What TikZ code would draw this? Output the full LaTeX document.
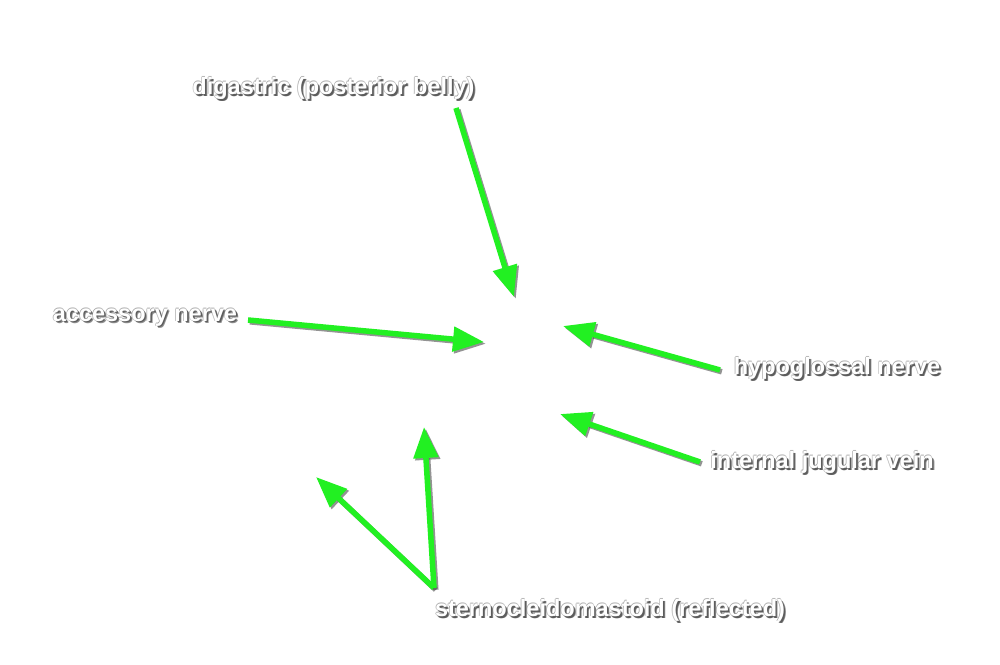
\documentclass[tikz,border=0pt]{standalone}
\usepackage{fontspec}
\setmainfont{Liberation Sans}
\usetikzlibrary{arrows.meta}
\tikzset{
  lbl/.style={font=\fontsize{23.5}{27}\selectfont\bfseries, text=white, inner sep=0pt},
  lblshadow/.style={font=\fontsize{23.5}{27}\selectfont\bfseries, text=black!80, inner sep=0pt, opacity=0.55},
  lbledge/.style={font=\fontsize{23.5}{27}\selectfont\bfseries, text=black!55, inner sep=0pt, opacity=0.5},
  garrow/.style={color={rgb,255:red,34;green,240;blue,34}, line width=5.5pt, -{Triangle[length=31pt,width=24pt]}},
  sarrow/.style={color=black!70, opacity=0.6, line width=5.5pt, -{Triangle[length=31pt,width=24pt]}}
}
\newcommand\myarrow[2]{%
  \draw[sarrow, transform canvas={shift={(1.8pt,-1.8pt)}}] (#1) -- (#2);
  \draw[garrow] (#1) -- (#2);}
\newcommand\mylabel[3]{%
  \node[lblshadow] at ([shift={(2.2pt,-2.4pt)}]#2) {#3};
  \node[lblshadow] at ([shift={(1.4pt,-1.6pt)}]#2) {#3};
  \node[lbledge] at ([shift={(-0.7pt,0pt)}]#2) {#3};
  \node[lbledge] at ([shift={(0pt,0.7pt)}]#2) {#3};
  \node[lbl] (#1) at (#2) {#3};}
\begin{document}
\begin{tikzpicture}[x=1pt,y=1pt]
\fill[white] (0,0) rectangle (1000,664);
\useasboundingbox (0,0) rectangle (1000,664);
% labels
\mylabel{dig}{333.5,575.5}{digastric (posterior belly)}
\mylabel{acc}{145,346.5}{accessory nerve}
\mylabel{hyp}{837,295.5}{hypoglossal nerve}
\mylabel{ijv}{822,201.5}{internal jugular vein}
\mylabel{scm}{610,53.5}{sternocleidomastoid (reflected)}
% arrow end points
\coordinate (digS) at (456,556);
\coordinate (digT) at (514,367);
\coordinate (accS) at (248,344);
\coordinate (accT) at (484,322);
\coordinate (hypS) at (720,294);
\coordinate (hypT) at (563,338);
\coordinate (ijvS) at (700,202);
\coordinate (ijvT) at (560,250);
\coordinate (scmS) at (434,76);
\coordinate (scmT1) at (316,187);
\coordinate (scmT2) at (424,237);
\myarrow{digS}{digT}
\myarrow{accS}{accT}
\myarrow{hypS}{hypT}
\myarrow{ijvS}{ijvT}
\myarrow{scmS}{scmT1}
\myarrow{scmS}{scmT2}
\end{tikzpicture}
\end{document}
